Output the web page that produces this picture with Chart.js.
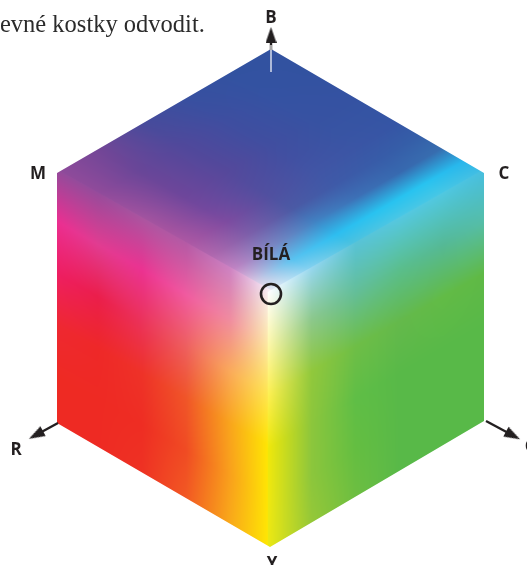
<!DOCTYPE html>
<html><head><meta charset="utf-8">
<style>html,body{margin:0;padding:0;background:#fff;overflow:hidden}canvas{display:block}</style>
<script src="https://cdn.jsdelivr.net/npm/chart.js@4"></script>
</head><body><canvas id="c" width="527" height="565"></canvas>
<script>
const hexX=[271,484,484,270,57,57,271];
const hexY=[49,173,421,547,423,173,49];
const whiteX=271, whiteY=294;
const toM=[-214,-123], toC=[213,-123], toYellow=[0,253], toMLow=[-214,-121], toCLow=[213,-121];
const topFace=[
[[255,255,255],[150,215,240],[88,195,215],[85,200,225],[80,200,225],[70,190,225]],
[[235,200,225],[90,195,240],[45,190,240],[40,195,240],[40,195,240],[40,180,235]],
[[205,130,195],[125,135,195],[65,130,195],[60,112,182],[55,105,175],[55,110,175]],
[[185,105,175],[125,95,170],[75,90,165],[62,90,168],[55,92,168],[52,95,168]],
[[180,90,165],[125,75,160],[80,80,160],[65,85,165],[58,85,165],[52,85,165]],
[[175,85,160],[115,72,158],[82,76,158],[65,80,162],[56,84,163],[52,84,163]],
[[170,85,160],[110,70,155],[85,72,155],[65,78,160],[55,82,162],[52,82,162]],
[[160,80,158],[108,70,153],[82,72,155],[63,78,160],[54,82,162],[51,82,161]],
[[150,75,155],[105,70,152],[80,72,155],[62,78,160],[52,82,162],[50,82,160]],
[[147,75,155],[110,70,151],[75,74,155],[58,79,160],[51,82,161],[50,82,160]],
[[145,75,155],[115,70,150],[70,75,155],[55,80,160],[50,82,160],[50,82,160]]];
const leftFace=[
[[255,255,255],[205,130,195],[180,90,165],[170,85,160],[150,75,155],[145,75,155]],
[[255,248,170],[240,140,160],[240,90,160],[235,50,145],[225,60,145],[236,45,145]],
[[255,240,80],[250,170,90],[238,95,95],[235,50,90],[235,30,75],[238,30,100]],
[[255,240,0],[249,165,28],[240,85,40],[238,50,40],[238,40,40],[238,40,50]],
[[255,240,0],[249,160,28],[240,75,35],[238,45,35],[238,42,35],[238,42,35]],
[[255,240,0],[249,170,25],[242,90,35],[238,50,35],[238,42,35],[238,42,35]]];
const rightFace=[
[[255,255,255],[150,215,240],[88,195,215],[85,200,225],[80,200,225],[70,190,225]],
[[255,248,170],[140,200,140],[100,190,150],[90,190,140],[85,185,150],[85,190,170]],
[[255,240,80],[145,200,60],[110,190,70],[100,185,75],[98,187,70],[95,185,70]],
[[240,232,10],[140,198,60],[95,190,70],[88,185,72],[88,185,72],[88,185,72]],
[[240,232,15],[140,198,60],[100,190,65],[88,185,72],[88,185,72],[88,185,72]],
[[235,232,20],[150,200,55],[110,190,65],[88,185,72],[88,185,72],[88,185,72]]];
const arrowB={x:[271,271],y:[50,35]};
const arrowR={x:[58,36],y:[423,435]};
const arrowG={x:[486,513],y:[421,435.5]};
const whiteLineX=[271,271], whiteLineY=[45,72];
const labels=[
 {t:'B',x:271,y:18},{t:'M',x:38,y:174},{t:'C',x:504,y:174},{t:'R',x:16,y:450},
 {t:'Y',x:272,y:564},{t:'G',x:531,y:447},{t:'BÍLÁ',x:271,y:255}];
const sentence='evné kostky odvodit.';

function faceCanvas(grid){
  const rows=grid.length, cols=grid[0].length, c=document.createElement('canvas'); c.width=cols; c.height=rows;
  const g=c.getContext('2d'), im=g.createImageData(cols,rows);
  grid.forEach((row,j)=>row.forEach((p,i)=>{const k=(j*cols+i)*4;im.data[k]=p[0];im.data[k+1]=p[1];im.data[k+2]=p[2];im.data[k+3]=255;}));
  g.putImageData(im,0,0); return c;
}
function cubePattern(chart){
  const sx=chart.scales.x, sy=chart.scales.y;
  const W=[sx.getPixelForValue(whiteX),sy.getPixelForValue(whiteY)];
  const vec=v=>[sx.getPixelForValue(whiteX+v[0])-W[0],sy.getPixelForValue(whiteY+v[1])-W[1]];
  const off=document.createElement('canvas'); off.width=chart.width; off.height=chart.height;
  const g=off.getContext('2d'); g.imageSmoothingEnabled=true;
  const put=(grid,a,b)=>{
    const A=vec(a),B=vec(b),src=faceCanvas(grid);
    g.setTransform(A[0],A[1],B[0],B[1],W[0],W[1]);
    g.drawImage(src,.5,.5,grid[0].length-1,grid.length-1,-.015,-.015,1.03,1.03);
  };
  put(topFace,toC,toM);
  put(leftFace,toMLow,toYellow);
  put(rightFace,toCLow,toYellow);
  return chart.ctx.createPattern(off,'no-repeat');
}
const pts=(xs,ys)=>xs.map((x,i)=>({x,y:ys[i]}));
const ink='#231f20';
function arrowHead(){
  const c=document.createElement('canvas'); c.width=11; c.height=16;
  const g=c.getContext('2d'); g.fillStyle=ink; g.beginPath();
  g.moveTo(5.5,0); g.lineTo(11,16); g.lineTo(0,16); g.closePath(); g.fill(); return c;
}
const head=arrowHead();
const arrow=(a)=>({data:pts(a.x,a.y),showLine:true,borderColor:ink,borderWidth:2.4,tension:0,
  pointStyle:head,pointRadius:[0,8],
  pointRotation:[0,Math.atan2(a.x[1]-a.x[0],-(a.y[1]-a.y[0]))*180/Math.PI],clip:false,order:3});
const cubePlugin={id:'cube',beforeDatasetsUpdate(chart){
  chart.data.datasets[0].backgroundColor=cubePattern(chart);
}};
const textPlugin={id:'texts',afterDatasetsDraw(chart){
  const c=chart.ctx,sx=chart.scales.x,sy=chart.scales.y;
  c.save();c.fillStyle=ink;c.textAlign='center';c.textBaseline='middle';
  c.font='bold 17px "Open Sans"';
  labels.forEach(l=>c.fillText(l.t,sx.getPixelForValue(l.x),sy.getPixelForValue(l.y)));
  c.textAlign='left';c.fillStyle='#2b2b2b';c.font='24.5px "Liberation Serif"';
  c.fillText(sentence,sx.getPixelForValue(0),sy.getPixelForValue(26));
  c.restore();
}};
new Chart(document.getElementById('c'),{
  type:'scatter',
  data:{datasets:[
    {label:'krychle',data:pts(hexX,hexY),showLine:true,fill:'shape',tension:0,borderWidth:0,pointRadius:0,
     borderColor:'transparent',backgroundColor:'#888',order:5},
    arrow(arrowB),arrow(arrowR),arrow(arrowG),
    {data:pts(whiteLineX,whiteLineY),showLine:true,borderColor:'#fff',borderWidth:1.2,pointRadius:0,order:2},
    {label:'bílá',data:[{x:whiteX,y:whiteY}],pointRadius:10,pointBorderWidth:2.6,pointBorderColor:ink,
     pointBackgroundColor:'rgba(255,255,255,0)',order:1}
  ]},
  options:{responsive:false,animation:false,devicePixelRatio:1,events:[],
    layout:{padding:0,autoPadding:false},
    plugins:{legend:{display:false},tooltip:{enabled:false},title:{display:false}},
    scales:{x:{type:'linear',min:0,max:527,display:false},y:{type:'linear',min:0,max:565,reverse:true,display:false}}},
  plugins:[cubePlugin,textPlugin]
});
</script></body></html>
